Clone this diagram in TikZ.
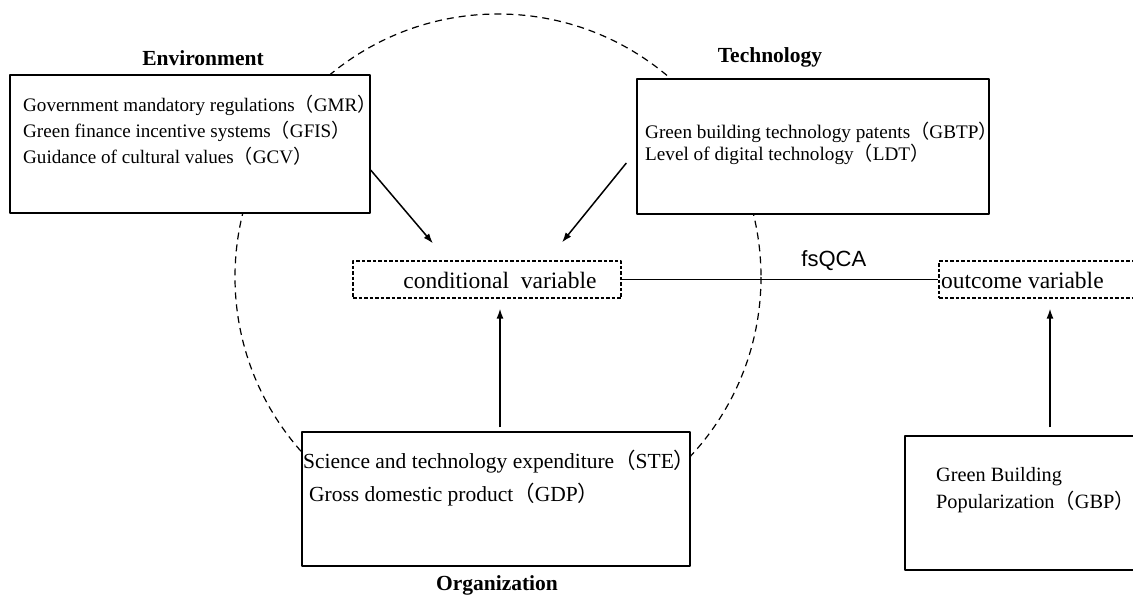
\documentclass[tikz,border=0pt]{standalone}
\usepackage{fontspec}
\setmainfont{Liberation Serif}
\newfontfamily\arialfont{Liberation Sans}
\newfontfamily\cjk{Noto Sans CJK SC}
\newcommand\qkl{{\cjk （}}
\newcommand\qkr{{\cjk ）}}
\usetikzlibrary{positioning,arrows.meta}
\tikzset{
	box/.style={draw,line width=1.3pt,fill=white,inner sep=0pt},
	varbox/.style={draw,dash pattern=on 3.5pt off 2pt,line width=1.2pt,fill=white,inner sep=0pt,minimum height=37pt},
	item/.style={anchor=west,inner sep=0pt,align=left},
	heading/.style={font=\fontsize{21.5}{24}\selectfont\bfseries},
}
\begin{document}
\begin{tikzpicture}[x=1pt,y=-1pt,line join=round,>={Latex[length=10pt,width=7pt]}]
	\useasboundingbox (0,0) rectangle (1133,599);
	\draw[dash pattern=on 7pt off 5pt,line width=1.2pt] (498,277) circle (263);
	% boxes
	\node[box,minimum width=360pt,minimum height=138pt] (env) at (190,144) {};
	\node[box,minimum width=352pt,minimum height=135pt] (tech) at (813,146.5) {};
	\node[box,minimum width=388pt,minimum height=134pt] (org) at (496,499) {};
	\node[box,minimum width=250pt,minimum height=134pt] (gbp) at (1030,503) {};
	\node[varbox,minimum width=268pt] (cond) at (487,279.5) {};
	\node[varbox,minimum width=206pt] (out) at (1042,279.5) {};
	% texts
	\node[heading] (envlab) at (203,58) {Environment};
	\node[heading] (techlab) at (770,57) {Technology};
	\node[heading] (orglab) at (497,585) {Organization};
	\node[item,font=\fontsize{19.1}{26}\selectfont] (envtxt) at (23,130)
		{Government mandatory regulations\qkl GMR\qkr\\Green finance incentive systems\qkl GFIS\qkr\\Guidance of cultural values\qkl GCV\qkr};
	\node[item,font=\fontsize{19.2}{22}\selectfont] (techtxt) at (645,143)
		{Green building technology patents\qkl GBTP\qkr\\Level of digital technology\qkl LDT\qkr};
	\node[item,font=\fontsize{21.5}{33}\selectfont] (orgtxt) at (303,478.5)
		{Science and technology expenditure\qkl STE\qkr\\\hspace*{6pt}Gross domestic product\qkl GDP\qkr};
	\node[item,font=\fontsize{20.3}{27}\selectfont] (gbptxt) at (936,490)
		{Green Building\\Popularization\qkl GBP\qkr};
	\node[font=\fontsize{23.5}{26}\selectfont,inner sep=0pt] (condtxt) at (500,280) {conditional\ \ variable};
	\node[item,font=\fontsize{23.5}{26}\selectfont] (outtxt) at (941,280) {outcome variable};
	% connectors
	\draw[line width=1pt] (cond.east) -- (out.west) node[pos=0.67,above=5pt,font=\arialfont\fontsize{22}{24}\selectfont] (fsqca) {fsQCA};
	\draw[->,line width=1.5pt]
		([yshift=-26pt]env.east) -- ([xshift=-54pt,yshift=17pt]cond.north);
	\draw[->,line width=1.5pt]
		([xshift=-10pt,yshift=-16.5pt]tech.west) -- ([xshift=75pt,yshift=18pt]cond.north);
	\draw[->,line width=1.5pt]
		([xshift=4pt,yshift=4pt]org.north) -- ([xshift=13pt,yshift=-10pt]cond.south);
	\draw[->,line width=1.5pt]
		([xshift=20pt,yshift=8pt]gbp.north) -- ([xshift=8pt,yshift=-10pt]out.south);
\end{tikzpicture}
\end{document}
